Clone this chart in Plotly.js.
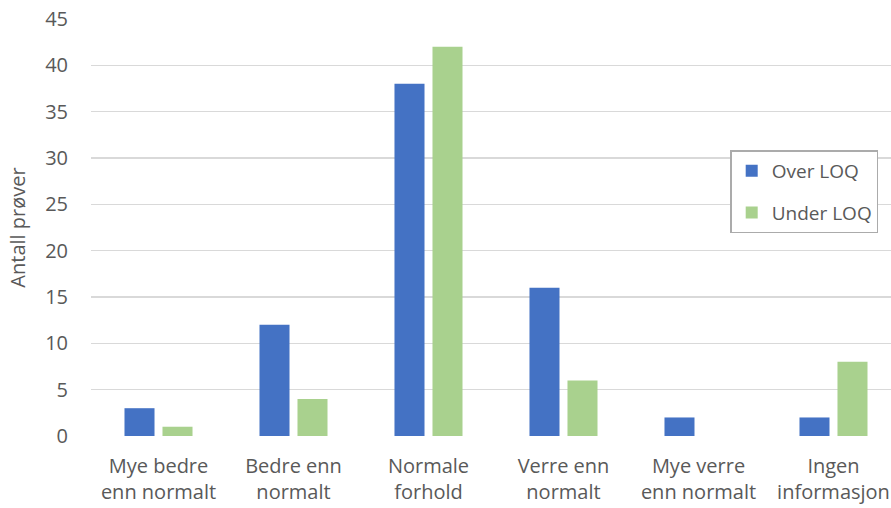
<!DOCTYPE html>
<html>
<head>
<meta charset="utf-8">
<script src="https://cdn.plot.ly/plotly-3.0.1.min.js"></script>
<style>html,body{margin:0;padding:0;background:#fff;}#chart{width:891px;height:508px;}</style>
</head>
<body>
<div id="chart"></div>
<script>
const categories = ["Mye bedre<br>enn normalt", "Bedre enn<br>normalt", "Normale<br>forhold", "Verre enn<br>normalt", "Mye verre<br>enn normalt", "Ingen<br>informasjon"];
const overLOQ = [3, 12, 38, 16, 2, 2];
const underLOQ = [1, 4, 42, 6, 0, 8];
const seriesNames = ["Over LOQ", "Under LOQ"];
const yTitle = "Antall prøver";

const font = "Open Sans, Noto Sans, sans-serif";
const textColor = "#595959";
const fs = 20;

const data = [
  {type: "bar", x: categories, y: overLOQ, name: seriesNames[0], legendgroup: "a",
   marker: {color: "#4472C4"}},
  {type: "bar", x: categories, y: underLOQ, name: seriesNames[1], legendgroup: "b",
   marker: {color: "#A9D18E"}}
];

const layout = {
  width: 891, height: 508,
  margin: {l: 91, r: 0, t: 19, b: 72},
  paper_bgcolor: "#fff", plot_bgcolor: "#fff",
  barmode: "group", bargap: 0.437, bargroupgap: 0.21,
  font: {family: font, color: textColor, size: fs},
  showlegend: true,
  legend: {
    x: 0.799, y: 0.685, xanchor: "left", yanchor: "top",
    bordercolor: "#ABABAB", borderwidth: 1.5, bgcolor: "#fff",
    font: {family: font, size: fs - 1, color: textColor},
    tracegroupgap: 14, traceorder: "grouped", itemwidth: 30
  },
  xaxis: {
    type: "category", range: [-0.5, 5.426],
    showgrid: false, zeroline: false, showline: false, ticks: "",
    ticklabelstandoff: 16,
    tickfont: {family: font, size: fs, color: textColor}
  },
  yaxis: {
    range: [0, 45], dtick: 5, showgrid: true, gridcolor: "#D9D9D9", gridwidth: 1.3,
    zeroline: false, showline: false, ticks: "outside", ticklen: 18, tickcolor: "rgba(0,0,0,0)",
    tickfont: {family: font, size: fs, color: textColor},
    title: {text: yTitle, font: {family: font, size: fs, color: textColor}, standoff: 14}
  }
};

Plotly.newPlot("chart", data, layout, {displayModeBar: false, staticPlot: true});
</script>
</body>
</html>
